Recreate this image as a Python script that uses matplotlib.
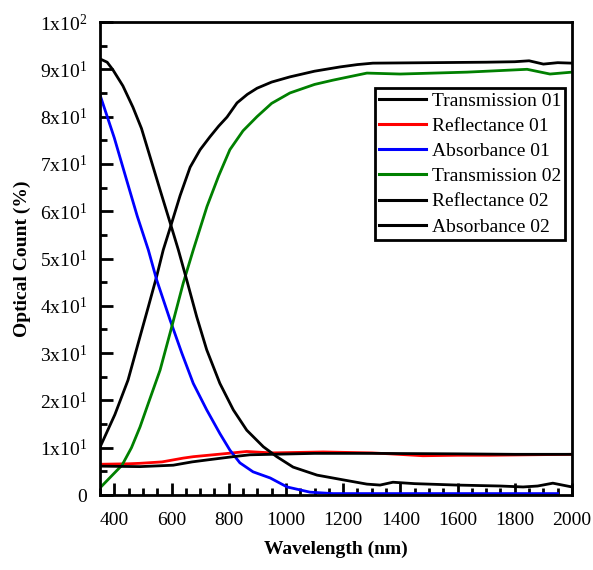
import matplotlib
matplotlib.use("Agg")
import matplotlib.pyplot as plt
from matplotlib.ticker import MultipleLocator, FixedLocator, FixedFormatter

plt.rcParams['font.family'] = ['Liberation Serif', 'DejaVu Serif']
plt.rcParams['mathtext.fontset'] = 'custom'
plt.rcParams['mathtext.rm'] = 'Liberation Serif'

# Transmission 01 (black, rising)
t1_x = [350, 402, 448, 490, 519, 548, 571, 598, 630, 665, 700, 734, 765, 794, 829, 865, 899, 950, 1014,
        1100, 1189, 1250, 1304, 1500, 1700, 1800, 1850, 1900, 1950, 2000]
t1_y = [10.1, 17.0, 24.3, 33.5, 39.8, 46.2, 51.8, 57.0, 63.3, 69.3, 73.0, 75.7, 78.0, 79.9, 82.9, 84.7, 86.0, 87.3, 88.4,
        89.6, 90.5, 91.0, 91.3, 91.4, 91.5, 91.6, 91.8, 91.1, 91.4, 91.3]

# Reflectance 01 (red)
r1_x = [350, 450, 490, 567, 641, 676, 780, 863, 950, 1130, 1300, 1364, 1479, 1600, 1713, 1850, 2000]
r1_y = [6.5, 6.6, 6.7, 7.0, 7.8, 8.1, 8.7, 9.2, 8.9, 9.1, 8.9, 8.7, 8.3, 8.4, 8.4, 8.5, 8.6]

# Absorbance 01 (blue)
a1_x = [350, 400, 443, 480, 519, 548, 595, 636, 676, 723, 769, 804, 839, 885, 945, 1004, 1084, 1164,
        1300, 1500, 1700, 1950]
a1_y = [84.6, 75.5, 66.6, 59.0, 51.8, 45.5, 37.0, 30.0, 23.6, 18.0, 13.0, 9.5, 6.8, 4.9, 3.6, 1.7, 0.6, 0.3,
        0.3, 0.3, 0.3, 0.3]

# Transmission 02 (green)
t2_x = [350, 390, 427, 460, 490, 519, 560, 601, 641, 676, 724, 765, 804, 850, 899, 950, 1014, 1100, 1164,
        1283, 1399, 1633, 1843, 1923, 2000]
t2_y = [1.5, 4.0, 6.3, 10.0, 14.4, 19.4, 26.4, 35.6, 44.8, 51.8, 61.0, 67.5, 73.0, 77.0, 80.0, 82.8, 85.0, 86.8, 87.7,
        89.2, 89.0, 89.4, 90.0, 89.0, 89.4]

# Reflectance 02 (black, flat)
r2_x = [350, 490, 606, 672, 723, 815, 874, 950, 1100, 1300, 1600, 1800, 2000]
r2_y = [6.1, 6.0, 6.3, 7.0, 7.4, 8.1, 8.5, 8.6, 8.8, 8.8, 8.7, 8.6, 8.6]

# Absorbance 02 (black, falling)
a2_x = [350, 375, 395, 430, 465, 495, 525, 560, 598, 624, 653, 688, 723, 769, 816, 863, 921, 968, 1025,
        1109, 1200, 1283, 1329, 1374, 1450, 1598, 1750, 1829, 1880, 1933, 2000]
a2_y = [92.2, 91.5, 89.9, 86.5, 82.0, 77.5, 71.5, 64.5, 57.0, 51.8, 45.5, 37.7, 30.7, 23.6, 18.0, 13.7, 10.2, 8.1, 5.9,
        4.2, 3.2, 2.3, 2.1, 2.7, 2.4, 2.1, 1.9, 1.7, 1.9, 2.5, 1.7]

y_ticks = [0, 10, 20, 30, 40, 50, 60, 70, 80, 90, 100]
y_labels = ['0'] + [r'$\mathregular{%dx10^1}$' % i for i in range(1, 10)] + [r'$\mathregular{1x10^2}$']

fig = plt.figure(figsize=(5.93, 5.70), dpi=100)
ax = fig.add_axes([100 / 593, 75 / 570, 472 / 593, 473 / 570])

lw = 2
ax.plot(t1_x, t1_y, color='black', lw=lw, label='Transmission 01')
ax.plot(r1_x, r1_y, color='red', lw=lw, label='Reflectance 01')
ax.plot(a1_x, a1_y, color='blue', lw=lw, label='Absorbance 01')
ax.plot(t2_x, t2_y, color='green', lw=lw, label='Transmission 02')
ax.plot(r2_x, r2_y, color='black', lw=lw, label='Reflectance 02')
ax.plot(a2_x, a2_y, color='black', lw=lw, label='Absorbance 02')

ax.set_xlim(350, 2000)
ax.set_ylim(0, 100)
ax.xaxis.set_major_locator(FixedLocator([400, 600, 800, 1000, 1200, 1400, 1600, 1800, 2000]))
ax.xaxis.set_minor_locator(MultipleLocator(50))
ax.yaxis.set_major_locator(FixedLocator(y_ticks))
ax.yaxis.set_major_formatter(FixedFormatter(y_labels))
ax.yaxis.set_minor_locator(MultipleLocator(5))

ax.tick_params(which='both', direction='in', width=2, labelsize=14, top=False, right=False)
ax.tick_params(which='major', length=9)
ax.tick_params(which='minor', length=5)
ax.tick_params(axis='x', pad=12)
ax.tick_params(axis='y', pad=9.5)
for s in ax.spines.values():
    s.set_linewidth(2)

ax.set_xlabel('Wavelength (nm)', fontsize=14, fontweight='bold', labelpad=9)
ax.set_ylabel('Optical Count (%)', fontsize=14, fontweight='bold', labelpad=6)

leg = ax.legend(loc='upper right', bbox_to_anchor=(0.985, 0.86), fontsize=14,
                frameon=True, fancybox=False, edgecolor='black', framealpha=1,
                borderpad=0.2, labelspacing=0.39, handlelength=2.4, handletextpad=0.3,
                borderaxespad=0)
leg.get_frame().set_linewidth(2)
for line in leg.get_lines():
    line.set_linewidth(2.2)

fig.savefig('out.png', dpi=100)
